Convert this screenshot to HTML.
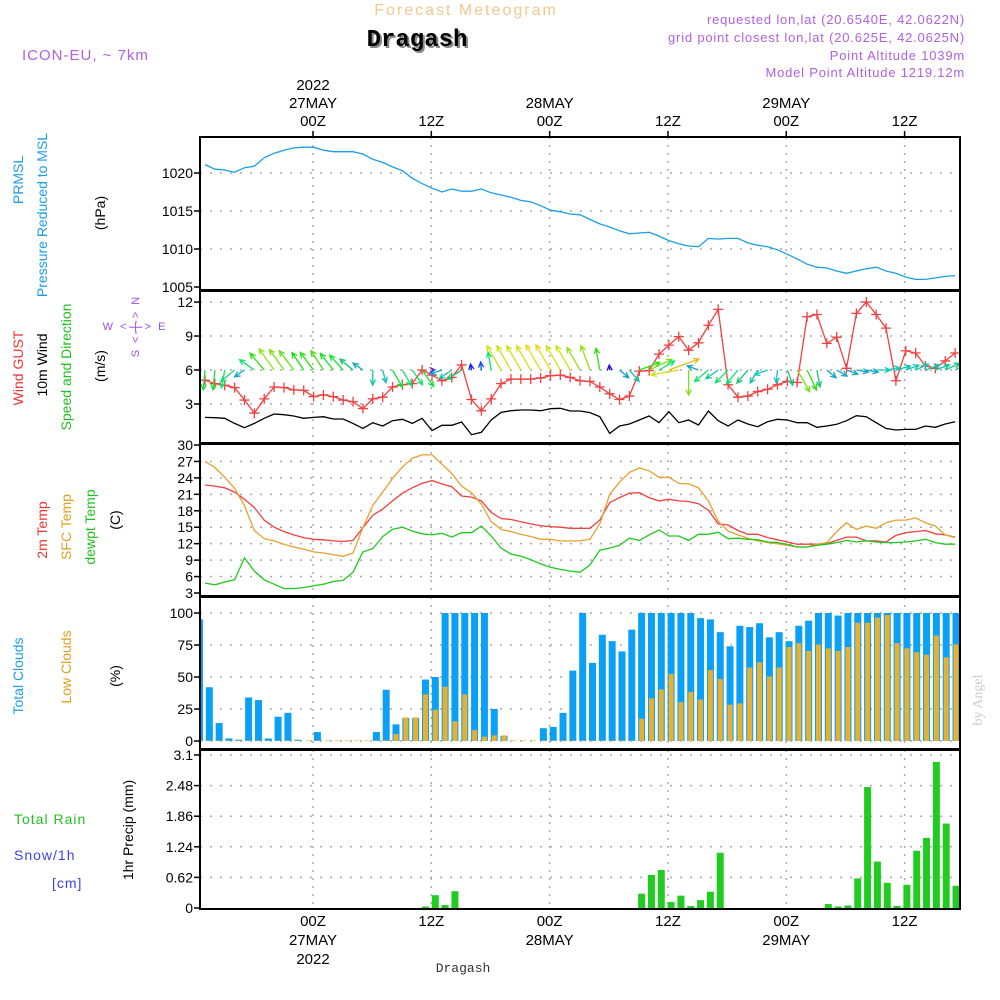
<!DOCTYPE html>
<html><head><meta charset="utf-8"><style>
html,body{margin:0;padding:0;background:#fff;}
svg{display:block;font-family:"Liberation Sans",sans-serif;}
</style></head><body>
<svg id="chart" width="1000" height="1000" viewBox="0 0 1000 1000" xmlns="http://www.w3.org/2000/svg">
<defs><clipPath id="plotclip"><rect x="200" y="137" width="760" height="772"/></clipPath></defs>
<rect x="0" y="0" width="1000" height="1000" fill="#fff"/>
<text x="466" y="15" font-size="16" fill="#f2c890" text-anchor="middle" letter-spacing="2">Forecast Meteogram</text>
<text x="419" y="48" font-size="24" font-weight="bold" fill="#888" text-anchor="middle" font-family="Liberation Mono, monospace">Dragash</text>
<text x="417" y="46" font-size="24" font-weight="bold" fill="#000" text-anchor="middle" font-family="Liberation Mono, monospace">Dragash</text>
<text x="22" y="60" font-size="15" fill="#b060e0" letter-spacing="1">ICON-EU, ~ 7km</text>
<g font-size="13" fill="#b060e0" text-anchor="end" letter-spacing="0.8">
<text x="965" y="24">requested lon,lat (20.6540E, 42.0622N)</text>
<text x="965" y="42">grid point closest lon,lat (20.625E, 42.0625N)</text>
<text x="965" y="60">Point Altitude 1039m</text>
<text x="965" y="77">Model Point Altitude 1219.12m</text>
</g>
<g id="grid"></g>
<g id="marks" clip-path="url(#plotclip)"></g>
<g id="frames"></g>
<g id="labels"></g>
<g font-size="14">
<text transform="translate(23,180) rotate(-90)" text-anchor="middle" fill="#1a9ee8">PRMSL</text>
<text transform="translate(47,215) rotate(-90)" text-anchor="middle" fill="#1a9ee8">Pressure Reduced to MSL</text>
<text transform="translate(105,213) rotate(-90)" text-anchor="middle" fill="#000">(hPa)</text>
</g>
<g font-size="14">
<text transform="translate(23,368) rotate(-90)" text-anchor="middle" fill="#f03030">Wind GUST</text>
<text transform="translate(47,365) rotate(-90)" text-anchor="middle" fill="#000">10m Wind</text>
<text transform="translate(71,367) rotate(-90)" text-anchor="middle" fill="#20c020">Speed and Direction</text>
<text transform="translate(105,366) rotate(-90)" text-anchor="middle" fill="#000">(m/s)</text>
</g>
<g font-size="11" fill="#a050e0" letter-spacing="2">
<text x="135" y="330" text-anchor="middle">W &lt;-|-&gt; E</text>
<text transform="translate(139,326) rotate(-90)" text-anchor="middle">S &lt;-|-&gt; N</text>
</g>
<g font-size="14">
<text transform="translate(47,530) rotate(-90)" text-anchor="middle" fill="#f03030">2m Temp</text>
<text transform="translate(71,527) rotate(-90)" text-anchor="middle" fill="#e0a020">SFC Temp</text>
<text transform="translate(95,527) rotate(-90)" text-anchor="middle" fill="#20c020">dewpt Temp</text>
<text transform="translate(120,520) rotate(-90)" text-anchor="middle" fill="#000">(C)</text>
</g>
<g font-size="14">
<text transform="translate(23,676) rotate(-90)" text-anchor="middle" fill="#1a9ee8">Total Clouds</text>
<text transform="translate(71,667) rotate(-90)" text-anchor="middle" fill="#e0a020">Low Clouds</text>
<text transform="translate(120,676) rotate(-90)" text-anchor="middle" fill="#000">(%)</text>
</g>
<g font-size="14">
<text x="14" y="824" fill="#20c020" letter-spacing="1">Total  Rain</text>
<text x="14" y="860" fill="#4040f0" letter-spacing="1">Snow/1h</text>
<text x="52" y="888" fill="#4040f0" letter-spacing="1">[cm]</text>
<text transform="translate(133,830) rotate(-90)" text-anchor="middle" fill="#000">1hr Precip (mm)</text>
</g>
<text x="463" y="972" font-size="13" text-anchor="middle" font-family="Liberation Mono, monospace" fill="#333">Dragash</text>
<text transform="translate(982,700) rotate(-90)" font-size="14" fill="#ccc" text-anchor="middle" font-family="Liberation Serif, serif">by Angel</text>
</svg>
<script>
// ---------- data ----------
const pressure = [1021.1,1020.5,1020.4,1020.1,1020.7,1020.9,1022,1022.6,1023,1023.3,1023.4,1023.4,1023,1022.8,1022.8,1022.8,1022.5,1021.8,1021.4,1020.8,1020.3,1019.3,1018.6,1018,1017.5,1017.9,1017.6,1017.6,1017.9,1017.4,1017.1,1016.8,1016.4,1016.2,1015.7,1015.1,1014.9,1014.6,1014.5,1013.9,1013.3,1012.9,1012.4,1012,1012.1,1012.2,1011.7,1011.1,1010.7,1010.4,1010.3,1011.4,1011.3,1011.4,1011.4,1010.8,1010.5,1010.3,1009.9,1009.3,1008.7,1008,1007.6,1007.5,1007.1,1006.8,1007.1,1007.4,1007.6,1007.1,1006.8,1006.3,1006,1006,1006.2,1006.4,1006.5];
const windGust = [5.1,4.8,4.65,4.45,3.35,2.2,3.45,4.5,4.45,4.25,4.2,3.65,3.8,3.65,3.35,3.2,2.6,3.45,3.6,4.5,4.7,4.8,6.0,5.55,5.05,5.35,6.45,3.4,2.4,3.45,4.8,5.2,5.2,5.2,5.3,5.5,5.55,5.35,5.05,5.0,4.5,3.9,3.4,3.7,5.9,5.95,7.4,8.2,8.95,7.75,8.4,9.95,11.35,4.7,3.6,3.7,4.1,4.3,4.7,5.0,4.9,10.7,10.9,8.35,8.9,6.15,11.0,12.0,10.9,9.7,5.05,7.7,7.5,6.35,6.15,6.8,7.5];
const wind10m = [1.82,1.79,1.74,1.29,0.91,1.29,1.74,2.12,2.06,1.94,1.74,1.82,1.88,1.68,1.68,1.29,0.85,1.35,1.06,1.53,1.65,1.29,1.74,0.65,1.12,1.12,1.41,0.29,0.5,1.59,2.26,2.41,2.47,2.47,2.41,2.59,2.62,2.38,2.38,2.24,1.88,0.41,1.06,1.24,1.59,1.94,1.35,2.32,1.35,1.59,1.15,2.38,1.53,1.06,1.59,1.24,1.0,1.44,1.65,1.59,1.35,1.35,0.94,1.06,1.21,1.53,1.97,1.88,1.35,0.85,0.71,0.76,0.76,1.06,0.94,1.24,1.44];
const windDir = [265,265,260,220,215,145,130,125,125,127,124,127,123,128,132,140,145,270,285,300,300,305,305,0,200,215,213,100,95,100,120,120,120,120,120,120,120,120,120,110,100,95,320,310,20,25,30,20,190,270,160,220,215,225,230,230,240,200,265,290,300,295,280,320,330,340,350,350,0,10,15,20,25,20,20,25,30];
const windLen = [20,20,18,18,12,18,22,26,25,24,21,22,23,21,20,17,12,15,13,20,18,18,20,3,12,15,17,6,8,18,28,28,28,28,29,29,28,28,26,26,22,5,12,15,22,25,18,32,28,25,12,18,15,18,18,17,15,14,13,16,25,22,17,12,12,12,12,12,14,14,15,14,14,15,15,16,15];
const temp2m = [22.7,22.5,22.2,21.4,20.1,18.6,16.3,15.0,14.2,13.6,13.1,12.8,12.7,12.5,12.4,12.6,14.9,17.2,18.3,19.8,21.2,22.2,23.0,23.5,22.9,22.4,20.7,20.5,19.8,17.7,16.6,16.4,16.0,15.6,15.3,15.1,15.0,14.8,14.8,14.8,16.3,19.5,20.4,21.2,21.3,20.4,19.8,20.1,19.8,19.7,19.3,18.1,15.6,15.4,14.4,13.7,13.7,13.1,12.7,12.3,11.9,11.9,11.9,12.0,12.6,13.2,13.2,12.5,12.5,12.3,13.5,14.0,14.2,14.4,13.8,13.6,13.2];
const tempSfc = [27.0,25.9,24.1,22.1,18.9,14.4,12.9,12.5,11.9,11.4,11.0,10.5,10.3,10.0,9.7,10.3,14.9,19.0,21.4,23.9,26.0,27.6,28.2,28.2,26.5,24.8,22.5,21.3,19.2,16.0,14.6,14.2,13.7,13.3,12.8,12.8,12.5,12.5,12.5,12.8,15.6,21.0,23.2,25.0,25.8,25.3,24.1,24.1,23.0,22.9,22.2,19.8,16.1,14.3,13.6,13.0,12.5,12.2,12.0,11.7,11.4,11.4,11.9,12.2,14.2,15.8,14.6,15.2,14.8,15.8,16.3,16.3,16.7,15.8,15.2,13.6,13.1];
const tempDew = [4.8,4.5,5.0,5.4,9.4,7.0,5.4,4.6,3.8,3.8,4.0,4.3,4.6,5.1,5.3,6.8,10.5,11.1,13.3,14.6,15.0,14.3,13.8,13.6,13.9,13.2,14.0,14.0,15.2,13.4,11.2,10.1,9.7,9.1,8.3,7.7,7.3,7.0,6.8,8.1,10.8,11.2,11.7,13.0,12.6,13.6,14.5,13.4,13.4,12.6,13.7,13.7,14.1,12.9,13.0,12.8,12.7,12.3,12.2,11.9,11.4,11.4,11.7,11.9,12.2,12.6,12.3,12.5,12.3,12.2,12.2,12.3,12.5,12.8,12.2,11.9,11.9];
const cloudTotal = [95,42,14,2,1,34,32,2,19,22,1,0,7,0,0,0,0,0,7,40,13,18,18,48,50,100,100,100,100,100,25,4,0,0,0,10,11,22,55,100,61,83,78,70,87,100,100,100,100,100,100,96,95,85,74,90,89,92,81,85,78,90,94,100,100,98,100,100,100,100,100,100,100,100,100,100,100,100];
const cloudLow = [0,0,0,0,0,0,0,0,0,0,0,0,0,0,0,0,0,0,0,0,5,18,18,36,24,42,15,36,8,3,4,4,0,0,0,0,0,0,0,0,0,0,0,0,0,17,33,40,52,30,38,32,55,48,28,29,57,61,50,57,73,76,70,75,72,70,73,92,92,96,98,76,72,69,67,82,65,75];
const precip = [0,0,0,0,0,0,0,0,0,0,0,0,0,0,0,0,0,0,0,0,0,0,0,0.03,0.26,0.06,0.34,0,0,0,0,0,0,0,0,0,0,0,0,0,0,0,0,0,0,0.29,0.67,0.77,0.12,0.25,0.04,0.16,0.33,1.12,0,0,0,0,0,0,0,0,0,0,0.08,0.03,0.05,0.6,2.45,0.94,0.51,0.04,0.47,1.16,1.42,2.96,1.71,0.45];
const timeTickHours = [0,12,24,36,48,60];
const timeTickTop = [["2022","27MAY","00Z"],["","","12Z"],["","28MAY","00Z"],["","","12Z"],["","29MAY","00Z"],["","","12Z"]];
const timeTickBottom = [["00Z","27MAY","2022"],["12Z","",""],["00Z","28MAY",""],["12Z","",""],["00Z","29MAY",""],["12Z","",""]];
const pressTicks = [1005,1010,1015,1020];
const windTicks = [3,6,9,12];
const tempTicks = [3,6,9,12,15,18,21,24,27,30];
const cloudTicks = [0,25,50,75,100];
const precipTicks = [0,0.62,1.24,1.86,2.48,3.1];

// ---------- scales ----------
const X0=200, X1=960;
const xH = h => 313 + h*9.86;
const xL = j => 205 + j*9.87;
const xB = k => 199.5 + k*9.825;
const yP = v => 287 - (v-1005)*7.6;
const yW = v => 438 - v*11.33;
const yT = v => 593 - (v-3)*(148/27);
const yC = v => 741 - v*1.28;
const yR = v => 908 - v*(153/3.1);
const panels = [
 {name:'pressure',top:137,bot:290,ticks:pressTicks,y:yP,fmt:v=>v},
 {name:'wind',top:291,bot:443,ticks:windTicks,y:yW,fmt:v=>v},
 {name:'temp',top:444,bot:596,ticks:tempTicks,y:yT,fmt:v=>v},
 {name:'cloud',top:597,bot:749,ticks:cloudTicks,y:yC,fmt:v=>v},
 {name:'precip',top:750,bot:909,ticks:precipTicks,y:yR,fmt:v=>v}
];
const NS='http://www.w3.org/2000/svg';
function mk(tag, attrs, parent){const e=document.createElementNS(NS,tag);for(const k in attrs)e.setAttribute(k,attrs[k]);parent.appendChild(e);return e;}
const grid=document.getElementById('grid'), marks=document.getElementById('marks'), frames=document.getElementById('frames'), labels=document.getElementById('labels');

panels.forEach(p=>{
  p.ticks.forEach(t=>{
    const y=p.y(t);
    if(y>p.top+3 && y<p.bot-3){
      const g=mk('line',{x1:X0,x2:X1,y1:y,y2:y,stroke:'#aaa','stroke-width':1.5,'stroke-dasharray':'2,8'},grid);
      
      
    }
    const tl=mk('text',{x:193,y:y+5,'font-size':14,'text-anchor':'end',fill:'#000'},labels);
    
    
    tl.textContent=p.fmt(t);
    const tk=mk('line',{x1:X0-6,x2:X0,y1:y,y2:y,stroke:'#000','stroke-width':1.5},labels);
    
    
  });
  timeTickHours.forEach(h=>{
    const v=mk('line',{x1:xH(h),x2:xH(h),y1:p.top,y2:p.bot,stroke:'#aaa','stroke-width':1.5,'stroke-dasharray':'2,6'},grid);
    
    
  });
  const r=mk('rect',{x:X0,y:p.top,width:X1-X0,height:p.bot-p.top,fill:'none',stroke:'#000','stroke-width':2},frames);
  
  
});

timeTickHours.forEach((h,i)=>{
  timeTickTop[i].forEach((s,r)=>{ if(!s) return;
    const t=mk('text',{x:xH(h),y:90+r*18,'font-size':15,'text-anchor':'middle',fill:'#000'},labels);
    
    
    t.textContent=s;});
  timeTickBottom[i].forEach((s,r)=>{ if(!s) return;
    const t=mk('text',{x:xH(h),y:926+r*19,'font-size':15,'text-anchor':'middle',fill:'#000'},labels);
    
    
    t.textContent=s;});
  const tk=mk('line',{x1:xH(h),x2:xH(h),y1:131,y2:137,stroke:'#000','stroke-width':1.5},labels);
  
  
});

function line(arr, yf, color, name, w){
  const pts=arr.map((v,j)=>xL(j).toFixed(1)+','+yf(v).toFixed(1)).join(' ');
  const pl=mk('polyline',{points:pts,fill:'none',stroke:color,'stroke-width':w||1.3},marks);
  
  
}
line(pressure,yP,'#1a9ee8','pressure-line');
line(wind10m,yW,'#000','wind-10m-line');
line(windGust,yW,'#f04040','wind-gust-line');
windGust.forEach((v,j)=>{
  const x=xL(j), y=yW(v);
  const c=mk('path',{d:`M${x-5},${y}H${x+5}M${x},${y-5}V${y+5}`,stroke:'#f04040','stroke-width':1.3},marks);
  
  
});
windDir.forEach((d,j)=>{
  const L=windLen[j], a=d*Math.PI/180, x=xL(j), y=yW(6);
  const x2=x+L*Math.cos(a), y2=y-L*Math.sin(a);
  const hue=Math.max(48,Math.min(265,285-L*7.8));
  const col=`hsl(${hue},85%,${hue>150&&hue<200?42:48}%)`;
  const ha=0.45, hl=6;
  const b1x=x2-hl*Math.cos(a-ha), b1y=y2+hl*Math.sin(a-ha);
  const b2x=x2-hl*Math.cos(a+ha), b2y=y2+hl*Math.sin(a+ha);
  const ar=mk('path',{d:`M${x},${y}L${x2},${y2}M${b1x},${b1y}L${x2},${y2}L${b2x},${b2y}`,stroke:col,'stroke-width':1.3,fill:'none'},marks);
  
  
});
line(temp2m,yT,'#f04040','temp-2m-line');
line(tempSfc,yT,'#e8a030','temp-sfc-line');
line(tempDew,yT,'#20c820','dewpoint-line');
cloudTotal.forEach((v,k)=>{
  const x=xB(k);
  const b=mk('rect',{x:x-3.5,y:yC(v),width:7,height:Math.max(0,yC(0)-yC(v)),fill:'#0aa0f5'},marks);
  
  
});
cloudLow.forEach((v,k)=>{
  const x=xB(k);
  const b=mk('rect',{x:x-2.5,y:yC(v)-0.5,width:5,height:Math.max(0.5,yC(0)-yC(v)+0.5),fill:'#e6b030'},marks);
  
  
});
precip.forEach((v,k)=>{
  const x=xB(k);
  const b=mk('rect',{x:x-3.5,y:yR(v),width:7,height:Math.max(0,yR(0)-yR(v)),fill:'#20cc20'},marks);
  
  
});
</script>
</body></html>
